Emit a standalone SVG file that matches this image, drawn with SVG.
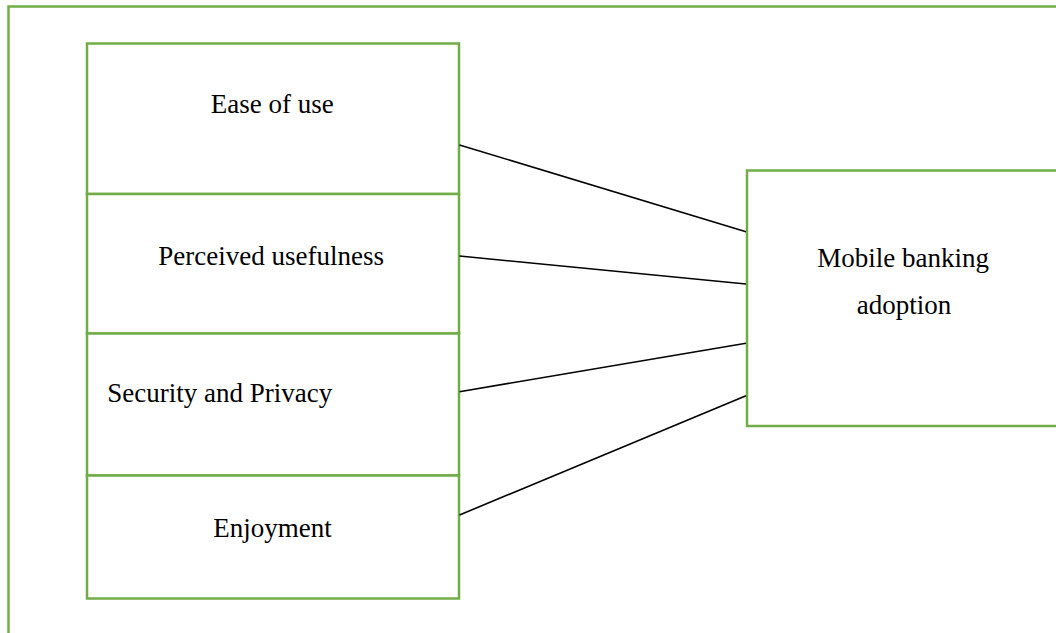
<svg xmlns="http://www.w3.org/2000/svg" width="1056" height="633" viewBox="0 0 1056 633">
<style>
.box{fill:#fff;stroke:#70AD47;stroke-width:2.5}
.frame{fill:none;stroke:#70AD47;stroke-width:2.5}
.lbl{font-family:"Liberation Serif","Times New Roman",serif;font-size:27px;fill:#000}
.conn{stroke:#000;stroke-width:1.6;fill:none}
</style>
<rect width="1056" height="633" fill="#fff"/>
<path class="frame" d="M8.5,633 V6.5 H1056"/>
<g id="ease-of-use">
<rect class="box" x="87" y="43.5" width="372" height="150.5"/>
<text class="lbl" x="210.7" y="112.5">Ease of use</text>
</g>
<g id="perceived-usefulness">
<rect class="box" x="87" y="194" width="372" height="139.5"/>
<text class="lbl" x="158.3" y="265">Perceived usefulness</text>
</g>
<g id="security-privacy">
<rect class="box" x="87" y="333.5" width="372" height="142"/>
<text class="lbl" x="107.3" y="402">Security and Privacy</text>
</g>
<g id="enjoyment">
<rect class="box" x="87" y="475.5" width="372" height="123"/>
<text class="lbl" x="213.3" y="536.5">Enjoyment</text>
</g>
<g id="mobile-banking-adoption">
<rect class="box" x="747" y="170.5" width="320" height="255.5"/>
<text class="lbl" x="817.3" y="266.5">Mobile banking</text>
<text class="lbl" x="856.7" y="314">adoption</text>
</g>
<g id="connectors">
<line class="conn" x1="459.5" y1="145" x2="746" y2="231.7"/>
<line class="conn" x1="459.5" y1="256" x2="746" y2="284"/>
<line class="conn" x1="459.5" y1="391.7" x2="746" y2="343.3"/>
<line class="conn" x1="459.5" y1="515" x2="746" y2="395.7"/>
</g>
</svg>
